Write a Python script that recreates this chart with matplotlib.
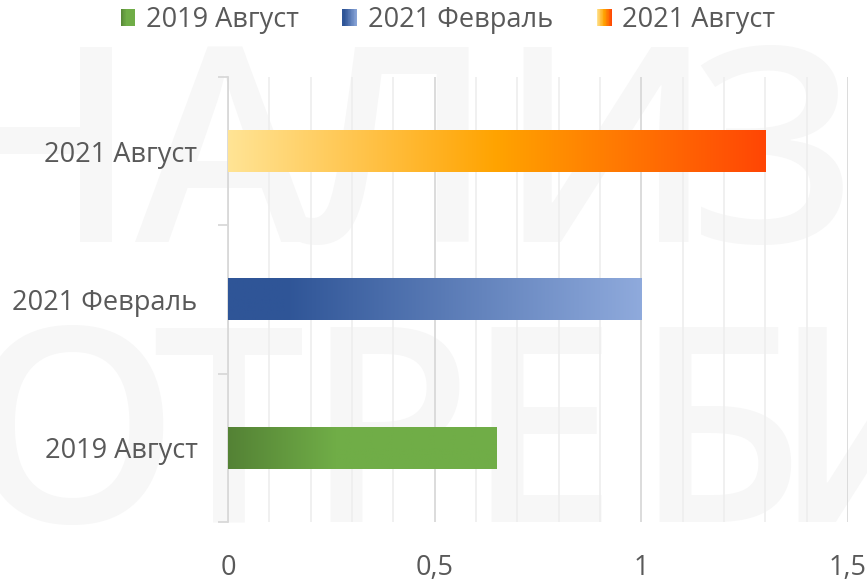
"""Horizontal gradient bar chart with a faint watermark behind it."""

import matplotlib.pyplot as plt
import numpy as np
from matplotlib.colors import LinearSegmentedColormap
from matplotlib.legend_handler import HandlerBase
from matplotlib.patches import Rectangle
from matplotlib.ticker import FuncFormatter, MultipleLocator

# data
categories = ["2019 Август", "2021 Февраль", "2021 Август"]
values = [0.65, 1.0, 1.3]
x_ticks = [0, 0.5, 1, 1.5]

# gradient stops per bar (position along the bar, colour)
gradients = [
    [(0.0, "#548235"), (0.4, "#70ad47"), (1.0, "#70ad47")],
    [(0.0, "#2f5597"), (0.14, "#2f5597"), (1.0, "#8faadc")],
    [(0.0, "#ffe495"), (0.5, "#ffa300"), (1.0, "#ff4605")],
]

# watermark letters and their centres (figure pixels)
wm_top = ["А", "Н", "А", "Л", "И", "З"]
wm_top_x = [-150, 35, 225, 395, 605, 772]
wm_bottom = ["П", "О", "Т", "Р", "Е", "Б", "И"]
wm_bottom_x = [-90, 72, 228, 388, 541, 718, 880]

TEXT = "#595959"
FONT = ["Open Sans", "DejaVu Sans"]
FS = 19.5
W, H = 867, 580

plt.rcParams["font.family"] = FONT
cmaps = [LinearSegmentedColormap.from_list(f"g{i}", g) for i, g in enumerate(gradients)]

fig = plt.figure(figsize=(W / 100, H / 100), dpi=100)
ax = fig.add_axes([228 / W, 1 - 522 / H, (848 - 228) / W, (522 - 77) / H])
ax.patch.set_alpha(0)

# watermark, drawn behind the axes
for letters, xs, base in [(wm_top, wm_top_x, 242), (wm_bottom, wm_bottom_x, 522)]:
    for ch, x in zip(letters, xs):
        fig.text(x / W, 1 - base / H, ch, fontsize=196, color="#f7f7f7",
                 fontweight="semibold", ha="center", va="baseline", zorder=-5)

# bars: rectangle from barh, filled with a gradient image
bar_h = 0.28
ypos = np.arange(len(categories))
bars = ax.barh(ypos, values, height=bar_h, color="none", zorder=3)
grad = np.linspace(0, 1, 256).reshape(1, -1)
for rect, cm in zip(bars, cmaps):
    x0, y0 = rect.get_x(), rect.get_y()
    ax.imshow(grad, cmap=cm, aspect="auto", zorder=3,
              extent=[x0, x0 + rect.get_width(), y0, y0 + rect.get_height()])

ax.set_xlim(0, 1.5)
ax.set_ylim(-0.5, len(categories) - 0.5)

# grid
ax.xaxis.set_minor_locator(MultipleLocator(0.1))
ax.grid(axis="x", which="minor", color="#efefef", lw=1.3, zorder=1)
ax.grid(axis="x", which="major", color="#d9d9d9", lw=1.3, zorder=1)
ax.set_axisbelow(True)
for s in ["top", "right", "bottom"]:
    ax.spines[s].set_visible(False)
ax.spines["left"].set_color("#d9d9d9")
ax.spines["left"].set_linewidth(1.3)

ax.set_xticks(x_ticks)
ax.xaxis.set_major_formatter(FuncFormatter(lambda v, p: f"{v:g}".replace(".", ",")))
ax.tick_params(axis="x", which="both", length=0, pad=23, labelsize=FS, labelcolor=TEXT)
ax.set_yticks(ypos)
ax.set_yticklabels(categories)
ax.set_yticks(np.arange(-0.5, len(categories)), minor=True)
ax.tick_params(axis="y", which="major", length=0, pad=22, labelsize=FS, labelcolor=TEXT)
ax.tick_params(axis="y", which="minor", length=7, width=1.3, color="#d9d9d9")


class GradientHandler(HandlerBase):
    def create_artists(self, legend, orig_handle, xdescent, ydescent, width, height,
                       fontsize, trans):
        cm = orig_handle.cmap_ref
        n = 20
        arts = []
        for i in range(n):
            r = Rectangle((-xdescent + width * i / n, -ydescent), width / n + 0.05, height,
                          facecolor=cm((i + 0.5) / n), edgecolor="none", transform=trans)
            arts.append(r)
        return arts


handles = []
for cm in cmaps:
    p = Rectangle((0, 0), 1, 1)
    p.cmap_ref = cm
    handles.append(p)

fig.legend(handles, categories, loc="center", bbox_to_anchor=(448 / W, 1 - 20 / H),
           ncol=3, frameon=False, fontsize=FS, labelcolor=TEXT,
           handler_map={Rectangle: GradientHandler()},
           handlelength=0.55, handleheight=0.55, handletextpad=0.4, columnspacing=1.6)

fig.savefig("out.png", dpi=100)
